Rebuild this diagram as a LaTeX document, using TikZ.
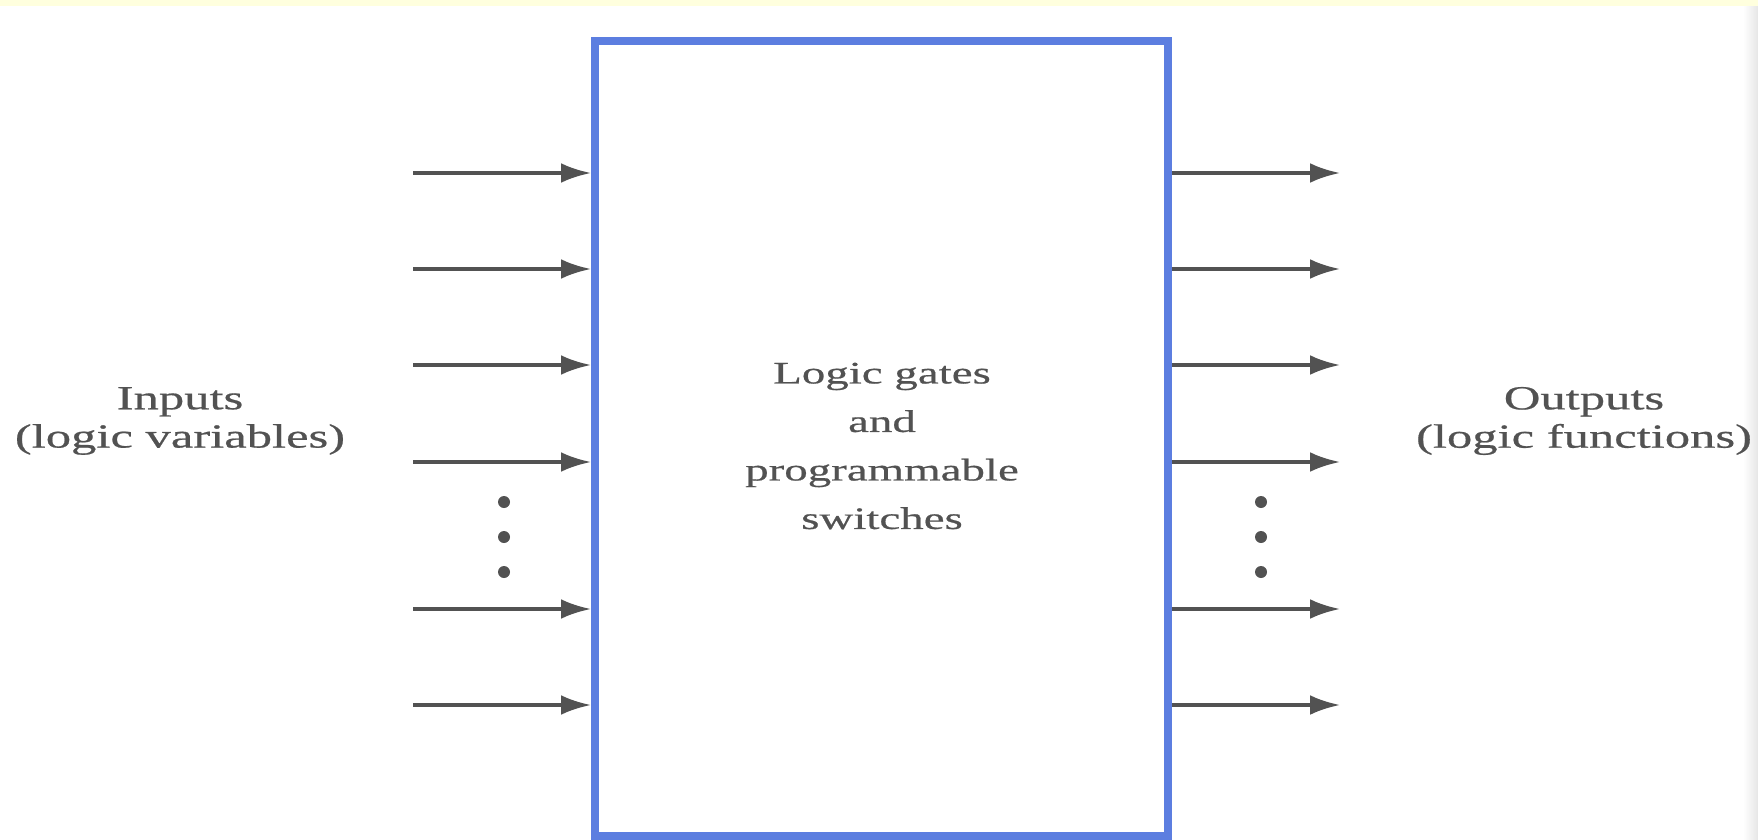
\documentclass[tikz,border=0pt]{standalone}
\usepackage{fontspec}
\newfontfamily\scanserif[FakeStretch=1.5,FakeBold=0.6]{Liberation Serif}
\usetikzlibrary{arrows.meta,positioning}
\usepackage{xcolor}
\definecolor{boxblue}{RGB}{92,126,224}
\definecolor{inkgray}{RGB}{82,82,82}
\definecolor{paperyellow}{RGB}{255,255,222}

\begin{document}
\begin{tikzpicture}[
      block/.style={draw=boxblue, line width=2.3pt, minimum width=5.73cm, minimum height=7.95cm, inner sep=0pt},
      sig/.style={-{Latex[length=8.5pt,width=5.6pt]}, draw=inkgray, line width=1pt},
      sidelabel/.style={align=center, inner sep=0pt, text=inkgray, font=\scanserif\fontsize{9.6}{10.9}\selectfont},
      corelabel/.style={align=center, inner sep=0pt, text=inkgray, font=\scanserif\fontsize{8.9}{13.8}\selectfont},
      vdot/.style={circle, fill=inkgray, inner sep=0pt, minimum size=0.12cm}
    ]
    \useasboundingbox (0,0) rectangle (17.58,8.39);
    \fill[paperyellow] (0,8.33) rectangle (17.58,8.39);
    \shade[left color=white, right color=black!10] (17.43,0) rectangle (17.58,8.33);

    \node[block] (core) at (8.815,4.005) {};
    \node[corelabel] (gates) at (8.82,3.93) {Logic gates\\and\\programmable\\switches};

    \node[sidelabel] (inputs) at (1.80,4.18) {Inputs\\(logic variables)};
    \node[sidelabel] (outputs) at (15.84,4.18) {Outputs\\(logic functions)};

    % input side
    \coordinate (in1) at (4.13,6.66);
    \coordinate (in2) at (4.13,5.70);
    \coordinate (in3) at (4.13,4.74);
    \coordinate (in4) at (4.13,3.77);
    \coordinate (in5) at (4.13,2.30);
    \coordinate (in6) at (4.13,1.34);
    \draw[sig] (in1) -- (core.west |- in1);
    \draw[sig] (in2) -- (core.west |- in2);
    \draw[sig] (in3) -- (core.west |- in3);
    \draw[sig] (in4) -- (core.west |- in4);
    \draw[sig] (in5) -- (core.west |- in5);
    \draw[sig] (in6) -- (core.west |- in6);
    \node[vdot] (ldot1) at (5.04,3.37) {};
    \node[vdot] (ldot2) at (5.04,3.02) {};
    \node[vdot] (ldot3) at (5.04,2.67) {};

    % output side
    \coordinate (out1) at (13.40,6.66);
    \coordinate (out2) at (13.40,5.70);
    \coordinate (out3) at (13.40,4.74);
    \coordinate (out4) at (13.40,3.77);
    \coordinate (out5) at (13.40,2.30);
    \coordinate (out6) at (13.40,1.34);
    \draw[sig] (core.east |- out1) -- (out1);
    \draw[sig] (core.east |- out2) -- (out2);
    \draw[sig] (core.east |- out3) -- (out3);
    \draw[sig] (core.east |- out4) -- (out4);
    \draw[sig] (core.east |- out5) -- (out5);
    \draw[sig] (core.east |- out6) -- (out6);
    \node[vdot] (rdot1) at (12.61,3.37) {};
    \node[vdot] (rdot2) at (12.61,3.02) {};
    \node[vdot] (rdot3) at (12.61,2.67) {};
  \end{tikzpicture}
\end{document}
